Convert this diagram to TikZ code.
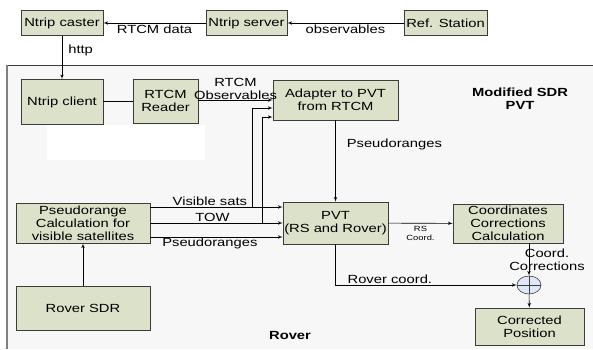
\documentclass[tikz,border=0pt]{standalone}
\usepackage{fontspec}
\setmainfont{Liberation Sans}[FakeStretch=1.25]
\usetikzlibrary{shapes,arrows,positioning,calc}
\definecolor{boxfill}{RGB}{220,225,202}
\definecolor{boxline}{RGB}{60,60,60}
\definecolor{roverbg}{RGB}{247,247,247}
\definecolor{sumfill}{RGB}{222,232,246}
\tikzstyle{line} = [draw, -latex']
\tikzstyle{block} = [draw=boxline, rectangle, fill=boxfill, align=center, inner sep=0pt]
\tikzstyle{lbl} = [inner sep=1pt, align=center]

\begin{document}
\begin{tikzpicture}[x=1pt, y=-1pt, font=\fontsize{11.8}{13}\selectfont, line width=0.6pt]
    \useasboundingbox (0,0) rectangle (593,349);
    % rover area
    \fill[roverbg] (7,65) rectangle (593,349);
    \draw[boxline] (7,65) -- (593,65);
    \draw[gray, line width=1.5pt] (7,65) -- (7,349);
    \fill[white] (47,125) rectangle (205,160);

    \node [block, minimum width=82, minimum height=25] (caster) at (62,23) {Ntrip caster};
    \node [block, minimum width=81, minimum height=25] (server) at (246.5,23) {Ntrip server};
    \node [block, minimum width=83, minimum height=25] (refst) at (445.5,23) {Ref. Station};
    \node [block, minimum width=82, minimum height=45] (client) at (62,102) {Ntrip client};
    \node [block, minimum width=65, minimum height=44] (reader) at (165.5,101) {RTCM\\Reader};
    \node [block, minimum width=125, minimum height=40] (adapter) at (335.5,100) {Adapter to PVT\\from RTCM};
    \node [block, minimum width=134, minimum height=40] (pseudo) at (83,223) {Pseudorange\\Calculation for\\visible satellites};
    \node [block, minimum width=134, minimum height=44] (sdr) at (83,308) {Rover SDR};
    \node [block, minimum width=105, minimum height=42] (pvt) at (335.5,223) {PVT\\(RS and Rover)};
    \node [block, minimum width=110, minimum height=39] (ccc) at (508,223.5) {Coordinates\\Corrections\\Calculation};
    \node [draw=boxline, ellipse, fill=sumfill, minimum width=24, minimum height=18, inner sep=0pt] (sum) at (529,285) {};
    \node [block, minimum width=109, minimum height=37] (corr) at (529.5,326.5) {Corrected\\Position};

    \node [lbl, font=\fontsize{11.8}{13}\selectfont\bfseries] (sdrtitle) at (520,99) {Modified SDR\\PVT};
    \node [lbl, font=\fontsize{11.8}{13}\selectfont\bfseries] (rovertitle) at (290,335) {Rover};

    \coordinate (vis) at (252,207);
    \coordinate (tow) at (262,223);

    \path [line] (server) -- node [lbl, below=1pt] {RTCM data} (caster);
    \path [line] (refst) -- node [lbl, below=1pt] {observables} (server);
    \path [line] (caster) -- node [lbl, right=5pt, pos=0.33] {http} (client);
    \draw (client.east |- reader) -- (reader);
    \path [line] (reader.east |- adapter) -- node [lbl, above=-1pt] {RTCM\\Observables} (adapter.west);
    \path [line] (pseudo.east |- vis) -- node [lbl, above, pos=0.45] {Visible sats} (pvt.west |- vis);
    \path [line] (pseudo.east) -- node [lbl, above, pos=0.47] {TOW} (pvt.west);
    \path [line] ($(pseudo.east)+(0,14)$) -- node [lbl, below, pos=0.45] {Pseudoranges} ($(pvt.west)+(0,14)$);
    \path [line] (vis) |- ($(adapter.west)+(0,8)$);
    \path [line] (tow) |- ($(adapter.west)+(0,17)$);
    \path [line] (sdr) -- (pseudo);
    \path [line] (adapter) -- node [lbl, right=10pt, pos=0.3] {Pseudoranges} (pvt);
    \path [line] (pvt) -- node [lbl, below=2pt, font=\fontsize{7.5}{9}\selectfont] {RS\\Coord.} (ccc);
    \path [line] (sum.north |- ccc.south) -- node [lbl, right=-21pt] {Coord.\\Corrections} (sum.north);
    \path [line] (pvt) |- node [lbl, above, pos=0.65] {Rover coord.} (sum.west);
    \path [line] (sum) -- (corr);
    \draw [boxline] (sum.north) -- (sum.south) (sum.west) -- (sum.east);
\end{tikzpicture}
\end{document}
